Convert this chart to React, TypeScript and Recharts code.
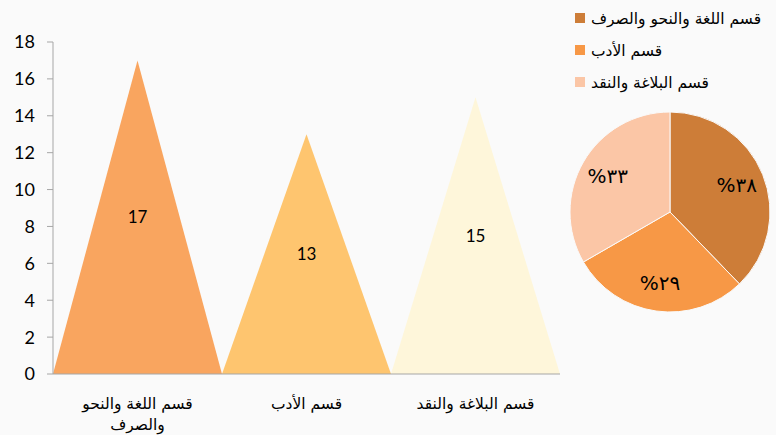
import React from 'react';
import { BarChart, Bar, XAxis, YAxis, Cell, LabelList, PieChart, Pie } from 'recharts';

// department names and number of staff in each
const departments = ['قسم اللغة والنحو والصرف', 'قسم الأدب', 'قسم البلاغة والنقد'];
const counts = [17, 13, 15];
const yTicks = [0, 2, 4, 6, 8, 10, 12, 14, 16, 18];

const barColors = ['#f9a55f', '#fec56f', '#fef6da'];
const pieColors = ['#cd7d38', '#f79846', '#fbc6a6'];

const data = departments.map((name, i) => ({ name, value: counts[i] }));

const arabicDigits = '٠١٢٣٤٥٦٧٨٩';
const toArabic = (n: number) => String(n).split('').map((d) => arabicDigits[+d]).join('');

const latin = 'Lato, "Open Sans", sans-serif';
const arabic = '"DejaVu Sans", "Noto Sans", sans-serif';

const Triangle = (props: any) => {
  const { x, y, width, height, fill } = props;
  if (!height) return null;
  const d = `M${x},${y + height} L${x + width / 2},${y} L${x + width},${y + height} Z`;
  return <path d={d} fill={fill} />;
};

// wrap long category names onto two lines, as the original does
const CategoryTick = ({ x, y, payload }: any) => {
  const words: string[] = String(payload.value).split(' ');
  const lines: string[] = [];
  let cur = '';
  words.forEach((w) => {
    const next = cur ? cur + ' ' + w : w;
    if (next.length > 20 && cur) {
      lines.push(cur);
      cur = w;
    } else cur = next;
  });
  if (cur) lines.push(cur);
  return (
    <g transform={`translate(${x},${y})`}>
      {lines.map((l, i) => (
        <text key={i} x={0} y={27 + i * 21} textAnchor="middle" fontSize={15.5} fontFamily={arabic} fill="#000">
          {l}
        </text>
      ))}
    </g>
  );
};

const RADIAN = Math.PI / 180;
const PieLabel = ({ cx, cy, midAngle, outerRadius, percent }: any) => {
  const r = outerRadius * 0.72;
  const px = cx + r * Math.cos(-midAngle * RADIAN);
  const py = cy + r * Math.sin(-midAngle * RADIAN);
  return (
    <text x={px} y={py} textAnchor="middle" dominantBaseline="central" fontSize={20} fontFamily={arabic} fill="#000">
      {'%' + toArabic(Math.round(percent * 100))}
    </text>
  );
};

const LegendBox = () => (
  <svg width={216} height={100} style={{ display: 'block' }}>
    {departments.map((name, i) => (
      <g key={name}>
        <rect x={15} y={13 + i * 32} width={10} height={10} fill={pieColors[i]} />
        <text x={31} y={24 + i * 32} fontSize={15.5} fontFamily={arabic} fill="#000">
          {name}
        </text>
      </g>
    ))}
  </svg>
);

export default function App() {
  return (
    <div style={{ position: 'absolute', left: 0, top: 0, width: 776, height: 435, background: '#fafafa' }}>
      <div style={{ position: 'absolute', left: 0, top: 0 }}>
        <BarChart
          width={570}
          height={435}
          data={data}
          margin={{ top: 42, right: 10, bottom: 0, left: 0 }}
          barCategoryGap={0}
          style={{ overflow: 'visible' }}
        >
          <YAxis
            width={53}
            domain={[0, 18]}
            ticks={yTicks}
            interval={0}
            tickSize={6}
            tickMargin={12}
            axisLine={{ stroke: '#a6a6a6' }}
            tickLine={{ stroke: '#a6a6a6' }}
            tick={{ fill: '#000', fontSize: 18, fontFamily: latin }}
          />
          <XAxis
            dataKey="name"
            height={61}
            interval={0}
            tickLine={false}
            axisLine={{ stroke: '#a6a6a6' }}
            tick={<CategoryTick />}
          />
          <Bar dataKey="value" shape={<Triangle />} isAnimationActive={false}>
            {data.map((d, i) => (
              <Cell key={d.name} fill={barColors[i]} />
            ))}
            <LabelList dataKey="value" position="center" fill="#000" fontSize={17} fontFamily={latin} />
          </Bar>
        </BarChart>
      </div>
      <div style={{ position: 'absolute', left: 560, top: 0 }}>
        <LegendBox />
      </div>
      <div style={{ position: 'absolute', left: 560, top: 0 }}>
        <PieChart width={216} height={435} margin={{ top: 0, right: 0, bottom: 0, left: 0 }}>
          <Pie
            data={data}
            dataKey="value"
            nameKey="name"
            cx={110}
            cy={212}
            outerRadius={100}
            startAngle={90}
            endAngle={-270}
            stroke="#fafafa"
            strokeWidth={1}
            label={<PieLabel />}
            labelLine={false}
            isAnimationActive={false}
          >
            {data.map((d, i) => (
              <Cell key={d.name} fill={pieColors[i]} />
            ))}
          </Pie>
        </PieChart>
      </div>
    </div>
  );
}
